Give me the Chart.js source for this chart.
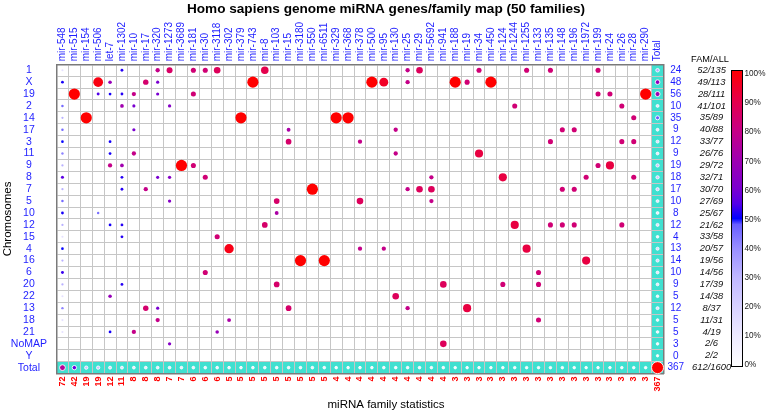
<!DOCTYPE html>
<html>
<head>
<meta charset="utf-8">
<script src="https://cdn.jsdelivr.net/npm/chart.js@4.4.0/dist/chart.umd.min.js"></script>
<style>
  html, body { margin: 0; padding: 0; background: #fff; }
  #wrap { width: 769px; height: 413px; }
</style>
</head>
<body>
<div id="wrap"><canvas id="map" width="769" height="413"></canvas></div>
<script>
// miRNA families (columns), in the order of the map
const families = [
  'mir-548', 'mir-515', 'mir-154', 'mir-506', 'let-7', 'mir-1302', 'mir-10', 'mir-17', 'mir-320', 'mir-1273',
  'mir-3689', 'mir-181', 'mir-30', 'mir-3118', 'mir-302', 'mir-379', 'mir-743', 'mir-8', 'mir-103', 'mir-15',
  'mir-3180', 'mir-550', 'mir-6511', 'mir-329', 'mir-368', 'mir-378', 'mir-500', 'mir-95', 'mir-130', 'mir-25',
  'mir-29', 'mir-5692', 'mir-941', 'mir-188', 'mir-19', 'mir-34', 'mir-450', 'mir-124', 'mir-1244', 'mir-1255',
  'mir-133', 'mir-135', 'mir-148', 'mir-196', 'mir-1972', 'mir-199', 'mir-24', 'mir-26', 'mir-28', 'mir-290'
];
// members per family (bottom red labels)
const familySizes = [
  72, 42, 19, 19, 12, 11, 8, 8, 8, 7,
  7, 6, 6, 6, 5, 5, 5, 5, 5, 5,
  5, 5, 5, 4, 4, 4, 4, 4, 4, 4,
  4, 4, 4, 3, 3, 3, 3, 3, 3, 3,
  3, 3, 3, 3, 3, 3, 3, 3, 3, 3
];
const chromosomes = ['1', 'X', '19', '2', '14', '17', '3', '11', '9', '8', '7', '5', '10', '12', '15', '4', '16', '6', '20', '22', '13', '18', '21', 'NoMAP', 'Y'];
const chromTotals = [24, 48, 56, 10, 35, 9, 12, 9, 19, 18, 17, 10, 8, 12, 4, 13, 14, 10, 9, 5, 12, 5, 5, 3, 0];
const famAll = ['52/135', '49/113', '28/111', '41/101', '35/89', '40/88', '33/77', '26/76', '29/72', '32/71', '30/70', '27/69', '25/67',
  '21/62', '33/58', '20/57', '19/56', '14/56', '17/39', '14/38', '8/37', '11/31', '4/19', '2/6', '2/2'];
const grandTotal = 367;
const grandFamAll = '612/1600';
const barTicks = [0, 10, 20, 30, 40, 50, 60, 70, 80, 90, 100];

// genes of each family on each chromosome (rows follow `chromosomes`)
const counts = [
  // 0  1  2  3  4  5  6  7  8  9 10 11 12 13 14 15 16 17 18 19 20 21 22 23 24 25 26 27 28 29 30 31 32 33 34 35 36 37 38 39 40 41 42 43 44 45 46 47 48 49
  [1, 0, 0, 0, 0, 1, 0, 0, 2, 3, 0, 2, 2, 3, 0, 0, 0, 3, 0, 0, 0, 0, 0, 0, 0, 0, 0, 0, 0, 1, 2, 0, 0, 0, 0, 1, 0, 0, 0, 1, 0, 1, 0, 0, 0, 1, 0, 0, 0, 0], // 1
  [6, 0, 0,16, 2, 0, 0, 3, 1, 0, 0, 0, 0, 0, 0, 0, 5, 0, 0, 0, 0, 0, 0, 0, 0, 0, 4, 3, 0, 1, 0, 0, 0, 3, 1, 0, 3, 0, 0, 0, 0, 0, 0, 0, 0, 0, 0, 0, 0, 0], // X
  [0,42, 0, 2, 1, 1, 2, 0, 1, 0, 0, 2, 0, 0, 0, 0, 0, 0, 0, 0, 0, 0, 0, 0, 0, 0, 0, 0, 0, 0, 0, 0, 0, 0, 0, 0, 0, 0, 0, 0, 0, 0, 0, 0, 0, 1, 1, 0, 0, 3], // 19
  [4, 0, 0, 0, 0, 2, 1, 0, 0, 1, 0, 0, 0, 0, 0, 0, 0, 0, 0, 0, 0, 0, 0, 0, 0, 0, 0, 0, 0, 0, 0, 0, 0, 0, 0, 0, 0, 0, 1, 0, 0, 0, 0, 0, 0, 0, 0, 1, 0, 0], // 2
  [2, 0,19, 0, 0, 0, 0, 0, 0, 0, 0, 0, 0, 0, 0, 5, 0, 0, 0, 0, 0, 0, 0, 4, 4, 0, 0, 0, 0, 0, 0, 0, 0, 0, 0, 0, 0, 0, 0, 0, 0, 0, 0, 0, 0, 0, 0, 0, 1, 0], // 14
  [4, 0, 0, 0, 0, 0, 1, 0, 0, 0, 0, 0, 0, 0, 0, 0, 0, 0, 0, 1, 0, 0, 0, 0, 0, 0, 0, 0, 1, 0, 0, 0, 0, 0, 0, 0, 0, 0, 0, 0, 0, 0, 1, 1, 0, 0, 0, 0, 0, 0], // 17
  [5, 0, 0, 0, 1, 0, 0, 0, 0, 0, 0, 0, 0, 0, 0, 0, 0, 0, 0, 2, 0, 0, 0, 0, 0, 1, 0, 0, 0, 0, 0, 0, 0, 0, 0, 0, 0, 0, 0, 0, 0, 1, 0, 0, 0, 0, 0, 1, 1, 0], // 3
  [3, 0, 0, 0, 1, 0, 2, 0, 0, 0, 0, 0, 0, 0, 0, 0, 0, 0, 0, 0, 0, 0, 0, 0, 0, 0, 0, 0, 1, 0, 0, 0, 0, 0, 0, 2, 0, 0, 0, 0, 0, 0, 0, 0, 0, 0, 0, 0, 0, 0], // 11
  [2, 0, 0, 0, 3, 2, 0, 0, 0, 0, 7, 2, 0, 0, 0, 0, 0, 0, 0, 0, 0, 0, 0, 0, 0, 0, 0, 0, 0, 0, 0, 0, 0, 0, 0, 0, 0, 0, 0, 0, 0, 0, 0, 0, 0, 1, 2, 0, 0, 0], // 9
  [8, 0, 0, 0, 0, 1, 0, 0, 1, 1, 0, 0, 2, 0, 0, 0, 0, 0, 0, 0, 0, 0, 0, 0, 0, 0, 0, 0, 0, 0, 0, 1, 0, 0, 0, 0, 0, 2, 0, 0, 0, 0, 0, 0, 1, 0, 0, 0, 1, 0], // 8
  [2, 0, 0, 0, 0, 1, 0, 2, 0, 0, 0, 0, 0, 0, 0, 0, 0, 0, 0, 0, 0, 5, 0, 0, 0, 0, 0, 0, 0, 1, 2, 2, 0, 0, 0, 0, 0, 0, 0, 0, 0, 0, 1, 1, 0, 0, 0, 0, 0, 0], // 7
  [4, 0, 0, 0, 0, 0, 0, 0, 0, 1, 0, 0, 0, 0, 0, 0, 0, 0, 2, 0, 0, 0, 0, 0, 0, 2, 0, 0, 0, 0, 0, 1, 0, 0, 0, 0, 0, 0, 0, 0, 0, 0, 0, 0, 0, 0, 0, 0, 0, 0], // 5
  [6, 0, 0, 1, 0, 0, 0, 0, 0, 0, 0, 0, 0, 0, 0, 0, 0, 0, 1, 0, 0, 0, 0, 0, 0, 0, 0, 0, 0, 0, 0, 0, 0, 0, 0, 0, 0, 0, 0, 0, 0, 0, 0, 0, 0, 0, 0, 0, 0, 0], // 10
  [2, 0, 0, 0, 1, 1, 0, 0, 0, 0, 0, 0, 0, 0, 0, 0, 0, 2, 0, 0, 0, 0, 0, 0, 0, 0, 0, 0, 0, 0, 0, 0, 0, 0, 0, 0, 0, 0, 2, 0, 0, 1, 1, 1, 0, 0, 0, 1, 0, 0], // 12
  [1, 0, 0, 0, 0, 1, 0, 0, 0, 0, 0, 0, 0, 2, 0, 0, 0, 0, 0, 0, 0, 0, 0, 0, 0, 0, 0, 0, 0, 0, 0, 0, 0, 0, 0, 0, 0, 0, 0, 0, 0, 0, 0, 0, 0, 0, 0, 0, 0, 0], // 15
  [5, 0, 0, 0, 0, 0, 0, 0, 0, 0, 0, 0, 0, 0, 4, 0, 0, 0, 0, 0, 0, 0, 0, 0, 0, 1, 0, 1, 0, 0, 0, 0, 0, 0, 0, 0, 0, 0, 0, 2, 0, 0, 0, 0, 0, 0, 0, 0, 0, 0], // 4
  [2, 0, 0, 0, 0, 0, 0, 0, 0, 0, 0, 0, 0, 0, 0, 0, 0, 0, 0, 0, 5, 0, 5, 0, 0, 0, 0, 0, 0, 0, 0, 0, 0, 0, 0, 0, 0, 0, 0, 0, 0, 0, 0, 0, 2, 0, 0, 0, 0, 0], // 16
  [7, 0, 0, 0, 0, 0, 0, 0, 0, 0, 0, 0, 2, 0, 0, 0, 0, 0, 0, 0, 0, 0, 0, 0, 0, 0, 0, 0, 0, 0, 0, 0, 0, 0, 0, 0, 0, 0, 0, 0, 1, 0, 0, 0, 0, 0, 0, 0, 0, 0], // 6
  [2, 0, 0, 0, 0, 1, 0, 0, 0, 0, 0, 0, 0, 0, 0, 0, 0, 0, 2, 0, 0, 0, 0, 0, 0, 0, 0, 0, 0, 0, 0, 0, 2, 0, 0, 0, 0, 1, 0, 0, 1, 0, 0, 0, 0, 0, 0, 0, 0, 0], // 20
  [1, 0, 0, 0, 2, 0, 0, 0, 0, 0, 0, 0, 0, 0, 0, 0, 0, 0, 0, 0, 0, 0, 0, 0, 0, 0, 0, 0, 2, 0, 0, 0, 0, 0, 0, 0, 0, 0, 0, 0, 0, 0, 0, 0, 0, 0, 0, 0, 0, 0], // 22
  [3, 0, 0, 0, 0, 0, 0, 3, 1, 0, 0, 0, 0, 0, 0, 0, 0, 0, 0, 2, 0, 0, 0, 0, 0, 0, 0, 0, 0, 1, 0, 0, 0, 0, 2, 0, 0, 0, 0, 0, 0, 0, 0, 0, 0, 0, 0, 0, 0, 0], // 13
  [1, 0, 0, 0, 0, 0, 0, 0, 2, 0, 0, 0, 0, 0, 1, 0, 0, 0, 0, 0, 0, 0, 0, 0, 0, 0, 0, 0, 0, 0, 0, 0, 0, 0, 0, 0, 0, 0, 0, 0, 1, 0, 0, 0, 0, 0, 0, 0, 0, 0], // 18
  [1, 0, 0, 0, 1, 0, 2, 0, 0, 0, 0, 0, 0, 1, 0, 0, 0, 0, 0, 0, 0, 0, 0, 0, 0, 0, 0, 0, 0, 0, 0, 0, 0, 0, 0, 0, 0, 0, 0, 0, 0, 0, 0, 0, 0, 0, 0, 0, 0, 0], // 21
  [0, 0, 0, 0, 0, 0, 0, 0, 0, 1, 0, 0, 0, 0, 0, 0, 0, 0, 0, 0, 0, 0, 0, 0, 0, 0, 0, 0, 0, 0, 0, 0, 2, 0, 0, 0, 0, 0, 0, 0, 0, 0, 0, 0, 0, 0, 0, 0, 0, 0], // NoMAP
  [0, 0, 0, 0, 0, 0, 0, 0, 0, 0, 0, 0, 0, 0, 0, 0, 0, 0, 0, 0, 0, 0, 0, 0, 0, 0, 0, 0, 0, 0, 0, 0, 0, 0, 0, 0, 0, 0, 0, 0, 0, 0, 0, 0, 0, 0, 0, 0, 0, 0]  // Y
];

const FONT = 'Liberation Sans, Arial, Helvetica, sans-serif';
const BLUE = '#1e1eff';
const TEAL = '#40e0d0';
const GRID = '#c6c6c6';
const FRAME = '#7a7a7a';

Chart.defaults.font.family = FONT;

// colour bar, bottom (0) to top (1)
const BAR_STOPS = [
  [0, [255, 255, 255]], [0.1, [238, 235, 255]], [0.2, [216, 210, 255]], [0.3, [192, 184, 255]],
  [0.4, [152, 142, 255]], [0.48, [104, 94, 255]], [0.5, [0, 0, 255]], [0.55, [84, 0, 232]],
  [0.6, [122, 0, 208]], [0.7, [160, 0, 176]], [0.8, [200, 0, 132]], [0.9, [230, 0, 72]], [1, [255, 0, 0]]
];
// share of a family on one chromosome -> position on the colour bar
const SHARE_STOPS = [
  [0, 0.08], [0.014, 0.14], [0.028, 0.32], [0.042, 0.42], [0.07, 0.5], [0.09, 0.52], [0.111, 0.56],
  [0.125, 0.6], [0.18, 0.7], [0.25, 0.79], [0.34, 0.83], [0.5, 0.87], [0.67, 0.91], [0.8, 0.97], [1, 1]
];
// totals (relative to the largest family) -> position on the colour bar
const TOTAL_STOPS = [[0, 0], [0.67, 0.66], [1, 0.75]];

function interp(stops, v) {
  if (v <= stops[0][0]) return stops[0][1];
  for (let k = 1; k < stops.length; k++) {
    const [a, va] = stops[k - 1];
    const [b, vb] = stops[k];
    if (v <= b) {
      const u = (v - a) / (b - a);
      if (Array.isArray(va)) return va.map((c, n) => c + (vb[n] - c) * u);
      return va + (vb - va) * u;
    }
  }
  return stops[stops.length - 1][1];
}
function barColor(t) {
  const c = interp(BAR_STOPS, Math.max(0, Math.min(1, t)));
  return `rgb(${Math.round(c[0])}, ${Math.round(c[1])}, ${Math.round(c[2])})`;
}

const xLabels = families.concat('Total');
const yLabels = chromosomes.concat('Total');

const cellPoints = [];
counts.forEach((row, j) => {
  row.forEach((n, i) => {
    if (n > 0) cellPoints.push({ x: families[i], y: chromosomes[j], share: n / familySizes[i] });
  });
});

const totalPoints = [];
familySizes.forEach((n, i) => totalPoints.push({ x: families[i], y: 'Total', n: n }));
chromTotals.forEach((n, j) => totalPoints.push({ x: 'Total', y: chromosomes[j], n: n }));
totalPoints.push({ x: 'Total', y: 'Total', n: grandTotal });

const maxFamily = Math.max(...familySizes);

const bandPlugin = {
  id: 'band',
  beforeDraw(chart) {
    const { ctx, chartArea: a, scales: { x, y } } = chart;
    ctx.save();
    ctx.fillStyle = '#fff';
    ctx.fillRect(0, 0, chart.width, chart.height);
    const cw = (a.right - a.left) / xLabels.length;
    const ch = (a.bottom - a.top) / yLabels.length;
    ctx.fillStyle = TEAL;
    const tx = x.getPixelForValue(xLabels.length - 1);
    const ty = y.getPixelForValue(yLabels.length - 1);
    ctx.fillRect(tx - cw / 2, a.top, cw, a.bottom - a.top);
    ctx.fillRect(a.left, ty - ch / 2, a.right - a.left, ch);
    ctx.restore();
  }
};

const textPlugin = {
  id: 'texts',
  afterDraw(chart) {
    const { ctx } = chart;
    ctx.save();
    ctx.fillStyle = '#000';
    ctx.textAlign = 'center';
    ctx.textBaseline = 'alphabetic';
    ctx.font = `bold 13.6px ${FONT}`;
    ctx.fillText('Homo sapiens genome miRNA genes/family map (50 families)', 386, 12.5);
    ctx.font = `11.5px ${FONT}`;
    ctx.fillText('miRNA family statistics', 386, 407.5);
    ctx.font = `9.2px ${FONT}`;
    ctx.fillText('FAM/ALL', 710, 61.5);

    // colour bar
    const bx = 731, bw = 12, top = 70, bottom = 367;
    const g = ctx.createLinearGradient(0, bottom, 0, top);
    BAR_STOPS.forEach(([t, c]) => g.addColorStop(t, `rgb(${c[0]}, ${c[1]}, ${c[2]})`));
    ctx.fillStyle = g;
    ctx.fillRect(bx, top, bw, bottom - top);
    ctx.strokeStyle = '#000';
    ctx.lineWidth = 1;
    ctx.strokeRect(bx + 0.5, top + 0.5, bw - 1, bottom - top - 1);
    ctx.fillStyle = '#222';
    ctx.font = `8.2px ${FONT}`;
    ctx.textAlign = 'left';
    ctx.textBaseline = 'middle';
    barTicks.forEach(p => {
      ctx.fillText(p + '%', 744.5, 74 + (100 - p) / 100 * 291);
    });
    ctx.restore();
  }
};

new Chart(document.getElementById('map'), {
  type: 'scatter',
  data: {
    datasets: [
      {
        data: cellPoints,
        pointRadius: c => 1 + 4.6 * c.raw.share,
        pointBackgroundColor: c => barColor(interp(SHARE_STOPS, c.raw.share)),
        pointBorderWidth: 0
      },
      {
        data: totalPoints,
        pointRadius: c => c.raw.n === grandTotal ? 6 : 1.2 + 1.7 * c.raw.n / maxFamily,
        pointBackgroundColor: c => c.raw.n === grandTotal ? '#ff0000' : barColor(interp(TOTAL_STOPS, c.raw.n / maxFamily)),
        pointBorderColor: '#fff',
        pointBorderWidth: 0.9
      }
    ]
  },
  options: {
    responsive: false,
    animation: false,
    devicePixelRatio: 1,
    layout: { padding: 0 },
    plugins: { legend: { display: false }, tooltip: { enabled: false } },
    scales: {
      x: {
        type: 'category', labels: xLabels, position: 'top', offset: true,
        grid: { offset: true, color: GRID, lineWidth: 1, drawTicks: false },
        border: { color: FRAME, width: 1.5 },
        ticks: { autoSkip: false, minRotation: 90, maxRotation: 90, padding: 3, labelOffset: 12, color: BLUE, font: { size: 10 } },
        afterFit: s => { s.height = 64.3; }
      },
      x2: {
        type: 'category', labels: familySizes.map(String).concat(String(grandTotal)), position: 'bottom', offset: true,
        grid: { display: false, drawTicks: false },
        border: { color: FRAME, width: 1.5 },
        ticks: { autoSkip: false, minRotation: 90, maxRotation: 90, padding: 3, color: '#ff0000', font: { size: 9, weight: 'bold' } },
        afterFit: s => { s.height = 39.4; }
      },
      y: {
        type: 'category', labels: yLabels, position: 'left', offset: true,
        grid: { offset: true, color: GRID, lineWidth: 1, drawTicks: false },
        border: { color: FRAME, width: 1.5 },
        ticks: { autoSkip: false, crossAlign: 'center', padding: 9.5, color: BLUE, font: { size: 10.5 } },
        title: { display: true, text: 'Chromosomes', color: '#000', font: { size: 11.5 }, padding: { top: 0.5, bottom: 0 } },
        afterFit: s => { s.width = 56.5; }
      },
      y2: {
        type: 'category', labels: chromTotals.map(String).concat(String(grandTotal)), position: 'right', weight: 1, offset: true,
        grid: { display: false, drawTicks: false },
        border: { color: FRAME, width: 1.5 },
        ticks: { autoSkip: false, crossAlign: 'center', padding: 4, color: BLUE, font: { size: 10 } },
        afterFit: s => { s.width = 25.5; }
      },
      y3: {
        type: 'category', labels: famAll.concat(grandFamAll), position: 'right', weight: 2, offset: true,
        grid: { display: false, drawTicks: false },
        border: { display: false },
        ticks: { autoSkip: false, crossAlign: 'center', padding: 3, color: '#111', font: { size: 9.4, style: 'italic' } },
        afterFit: s => { s.width = 80; }
      }
    }
  },
  plugins: [bandPlugin, textPlugin]
});
</script>
</body>
</html>
